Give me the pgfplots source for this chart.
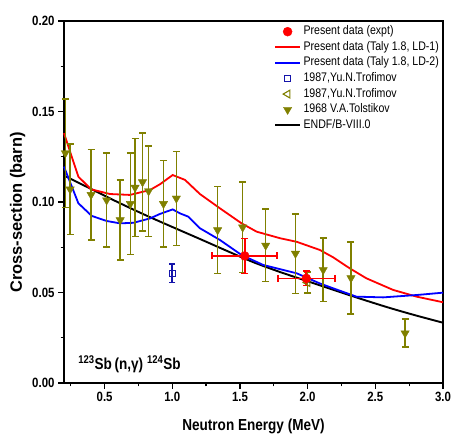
\documentclass[border=0pt]{standalone}
\usepackage{pgfplots}
\pgfplotsset{compat=1.18}
\usepackage{fontspec}
\setmainfont{Liberation Sans}[FakeStretch=0.85]
\newfontfamily\ylabfont{Liberation Sans}
\definecolor{olivec}{RGB}{128,128,0}
\definecolor{navyc}{RGB}{20,20,170}
\begin{document}
\begin{tikzpicture}
\begin{axis}[
    width=379bp, height=362bp, scale only axis,
    xmin=0.2, xmax=3.0, ymin=0, ymax=0.2,
    axis line style={line width=1.5bp},
    xtick={0.5,1.0,1.5,2.0,2.5,3.0},
    minor xtick={0.25,0.75,1.25,1.75,2.25,2.75},
    ytick={0,0.05,0.10,0.15,0.20},
    minor ytick={0.025,0.075,0.125,0.175},
    tick align=outside, xtick pos=left, ytick pos=left,
    major tick length=6bp, minor tick length=3.5bp,
    every tick/.style={black, line width=1.3bp},
    /pgf/number format/assume math mode=true,
    ticklabel style={font=\bfseries\fontsize{13.5}{13.5}\selectfont},
    xticklabel style={/pgf/number format/.cd, fixed, fixed zerofill, precision=1},
    yticklabel style={/pgf/number format/.cd, fixed, fixed zerofill, precision=2},
    xlabel={Neutron Energy (MeV)},
    xlabel style={font=\bfseries\fontsize{16}{16}\selectfont, at={(axis description cs:0.5,-0.119)}, anchor=center},
    ylabel={Cross-section (barn)},
    ylabel style={font=\ylabfont\bfseries\fontsize{16.5}{16.5}\selectfont, at={(axis description cs:-0.1227,0.471)}, anchor=center},
    clip=false,
    legend cell align=left,
    legend image code/.code={\draw[mark repeat=2,mark phase=2,#1] plot coordinates {(0bp,0bp) (12.5bp,0bp) (25bp,0bp)};},
    legend style={at={(axis description cs:0.554,0.989)}, anchor=north west, draw=none, fill=none,
        inner sep=0pt, font=\fontsize{12.5}{15}\selectfont, row sep=2.6bp,
        nodes={inner sep=0.5bp, text height=9bp, text depth=3bp},
        /tikz/every odd column/.append style={column sep=2bp}},
]
% legend entries
\addlegendimage{only marks, mark=*, mark size=4.5bp, red, fill=red}
\addlegendentry{Present data (expt)}
\addlegendimage{red, line width=1.8bp}
\addlegendentry{Present data (Taly 1.8, LD-1)}
\addlegendimage{blue, line width=1.8bp}
\addlegendentry{Present data (Taly 1.8, LD-2)}
\addlegendimage{only marks, mark=square, mark size=3bp, navyc, line width=1.1bp}
\addlegendentry{1987,Yu.N.Trofimov}
\addlegendimage{only marks, mark=triangle, mark size=4.5bp, olivec, line width=1.1bp, mark options={rotate=90}}
\addlegendentry{1987,Yu.N.Trofimov}
\addlegendimage{only marks, mark=triangle*, mark size=4.8bp, olivec, fill=olivec, mark options={rotate=180}}
\addlegendentry{1968 V.A.Tolstikov}
\addlegendimage{black, line width=1.9bp}
\addlegendentry{ENDF/B-VIII.0}

% ENDF/B-VIII.0
\addplot[black, line width=1.9bp, smooth, forget plot] coordinates {
(0.2,0.1146)(0.4,0.1072)(0.6,0.0998)(0.8,0.0928)(1.0,0.0862)(1.2,0.0797)(1.4,0.0731)
(1.6,0.0667)(1.8,0.0612)(2.0,0.0562)(2.2,0.0512)(2.4,0.0463)(2.6,0.0416)(2.8,0.0373)(3.0,0.0333)};

% TALYS LD-1
\addplot[red, line width=1.8bp, forget plot] coordinates {
(0.2,0.138)(0.306,0.114)(0.4,0.107)(0.54,0.1044)(0.687,0.1039)(0.835,0.1066)(0.909,0.1098)
(1.003,0.1149)(1.094,0.1122)(1.204,0.1044)(1.352,0.0965)(1.512,0.0882)(1.623,0.0836)
(1.795,0.0800)(1.919,0.0780)(2.09,0.0735)(2.189,0.0694)(2.312,0.0633)(2.435,0.0578)
(2.632,0.0514)(2.805,0.0477)(3.0,0.0446)};

% TALYS LD-2
\addplot[blue, line width=1.8bp, forget plot] coordinates {
(0.2,0.1195)(0.306,0.0993)(0.405,0.0923)(0.515,0.0895)(0.614,0.0882)(0.712,0.0885)
(0.835,0.0909)(0.909,0.0934)(1.003,0.0959)(1.057,0.0937)(1.118,0.0919)(1.204,0.0855)
(1.352,0.0790)(1.512,0.0707)(1.672,0.0652)(1.919,0.0606)(2.09,0.0550)(2.189,0.0523)
(2.36,0.0477)(2.558,0.0473)(2.805,0.0486)(3.0,0.0499)};

% 1968 V.A. Tolstikov
\addplot[only marks, mark=triangle*, mark size=4.8bp, olivec, fill=olivec,
    mark options={rotate=180}, forget plot,
    error bars/.cd, y dir=both, y explicit,
    error bar style={line width=1.6bp, olivec},
    error mark options={rotate=90, mark size=3.5bp, line width=1.6bp, olivec}]
coordinates {
(0.21,0.127) +- (0,0.030)
(0.245,0.107) +- (0,0.025)
(0.40,0.104) +- (0,0.025)
(0.515,0.101) +- (0,0.026)
(0.615,0.090) +- (0,0.022)
(0.69,0.099) +- (0,0.028)
(0.725,0.108) +- (0,0.027)
(0.78,0.111) +- (0,0.027)
(0.825,0.106) +- (0,0.025)
(0.935,0.099) +- (0,0.024)
(1.03,0.102) +- (0,0.026)
(1.335,0.0845) +- (0,0.024)
(1.52,0.086) +- (0,0.025)
(1.69,0.076) +- (0,0.020)
(1.91,0.0715) +- (0,0.022)
(2.115,0.0625) +- (0,0.0175)
(2.32,0.058) +- (0,0.020)
(2.72,0.0275) +- (0,0.0077)
};

% 1987 Trofimov (square)
\addplot[only marks, mark=square, mark size=3bp, navyc, line width=1.1bp, forget plot,
    error bars/.cd, y dir=both, y explicit,
    error bar style={line width=1.6bp, navyc},
    error mark options={rotate=90, mark size=3bp, line width=1.6bp, navyc}]
coordinates {(1.0,0.0606) +- (0,0.0051)};

% 1987 Trofimov (triangle)
\addplot[only marks, mark=triangle, mark size=4.5bp, olivec, line width=1.1bp,
    mark options={rotate=90}, forget plot,
    error bars/.cd, y dir=both, y explicit,
    error bar style={line width=1.6bp, olivec},
    error mark options={rotate=90, mark size=3.5bp, line width=1.6bp, olivec}]
coordinates {(2.0,0.0555) +- (0,0.0058)};

% Present data (expt)
\addplot[only marks, mark=*, mark size=4.5bp, red, fill=red, forget plot,
    error bars/.cd, x dir=both, x explicit, y dir=both, y explicit,
    error bar style={line width=1.6bp, red},
    error mark options={rotate=90, mark size=3.5bp, line width=1.6bp, red}]
coordinates {
(1.535,0.0702) +- (0.24,0.0097)
(1.99,0.0578) +- (0.21,0.0040)
};

\node[anchor=west, font=\bfseries\fontsize{16}{16}\selectfont] at (axis cs:0.28,0.0105)
    {\textsuperscript{123}Sb\,(n,γ) \textsuperscript{124}Sb};

\coordinate (bbSW) at (rel axis cs:-0.1689,-0.149);
\coordinate (bbNE) at (rel axis cs:1.0211,1.058);
\end{axis}
\pgfresetboundingbox
\path[use as bounding box] (bbSW) rectangle (bbNE);
\end{tikzpicture}
\end{document}
